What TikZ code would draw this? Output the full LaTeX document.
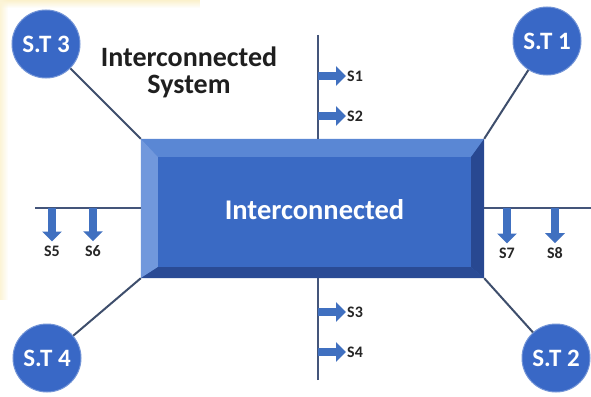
\documentclass[tikz,border=0pt]{standalone}
\usepackage{fontspec}
\setmainfont{Carlito}
\usetikzlibrary{arrows.meta,calc,fadings}
\definecolor{face}{HTML}{3A6AC4}
\definecolor{bevtop}{HTML}{5A87D4}
\definecolor{bevleft}{HTML}{7198DC}
\definecolor{bevright}{HTML}{284891}
\definecolor{bevbot}{HTML}{2A4B95}
\definecolor{stfill}{HTML}{3968C6}
\definecolor{wire}{HTML}{3E4E6C}
\definecolor{bus}{HTML}{44557A}
\definecolor{arr}{HTML}{4070C0}
\definecolor{tint}{HTML}{FBF1CC}
\begin{document}
\begin{tikzpicture}[x=1pt,y=-1pt,
  station/.style={circle,fill=stfill,draw=stfill!70!white,line width=1pt,
    minimum size=68pt,inner sep=0pt,text=white,
    font=\bfseries\fontsize{25}{25}\selectfont},
  wireline/.style={draw=wire,line width=2pt},
  busline/.style={draw=bus,line width=2.2pt},
  blockarrow/.style={draw=arr,line width=8pt,-{Triangle[width=19pt,length=10pt]}},
  slabel/.style={font=\bfseries\fontsize{16}{16}\selectfont,text=black!85,inner sep=1pt}
]
\useasboundingbox (0,0) rectangle (591,396);
\fill[white] (0,0) rectangle (591,396);
% faint warm tint along the upper-left edges
\fill[tint,path fading=south] (0,0) rectangle (200,8);
\fill[tint!80!white,path fading=east] (0,0) rectangle (8,300);

% stations
\node[station] (st3) at (46,44) {S.T 3};
\node[station] (st1) at (547,41) {S.T 1};
\node[station] (st4) at (47,358) {S.T 4};
\node[station] (st2) at (556,358) {S.T 2};

% central bevelled block
\node[fill=face,minimum width=343pt,minimum height=139pt,inner sep=0pt] (box) at (312.5,208.5) {};
\coordinate (inw) at ($(box.north west)+(17,18)$);
\coordinate (ine) at ($(box.north east)+(-13,18)$);
\coordinate (ise) at ($(box.south east)+(-13,-11)$);
\coordinate (isw) at ($(box.south west)+(17,-11)$);
\fill[bevtop] (box.north west) -- (box.north east) -- (ine) -- (inw) -- cycle;
\fill[bevleft] (box.north west) -- (inw) -- (isw) -- (box.south west) -- cycle;
\fill[bevright] (box.north east) -- (box.south east) -- (ise) -- (ine) -- cycle;
\fill[bevbot] (box.south west) -- (isw) -- (ise) -- (box.south east) -- cycle;
\node[text=white,font=\bfseries\fontsize{28.5}{28.5}\selectfont] (boxtext)
  at ($(inw)!0.5!(ise)+(0,-2)$) {Interconnected};

% station links
\draw[wireline] (st3) -- (box.north west);
\draw[wireline] (st1) -- (box.north east);
\draw[wireline] (st4) -- (box.south west);
\draw[wireline] (st2) -- (box.south east);

% buses
\coordinate (ntop) at (318,35);
\coordinate (sbot) at (318,380);
\coordinate (wend) at (35,208);
\coordinate (eend) at (591,208);
\draw[busline] (ntop) -- (ntop |- box.north);
\draw[busline] (sbot) -- (sbot |- box.south);
\draw[busline] (wend) -- (wend -| box.west);
\draw[busline] (eend) -- (eend -| box.east);

% outputs on the vertical buses
\node[slabel,anchor=west] (s1) at (346,76) {S1};
\node[slabel,anchor=west] (s2) at (346,116) {S2};
\node[slabel,anchor=west] (s3) at (346,312) {S3};
\node[slabel,anchor=west] (s4) at (346,352) {S4};
\foreach \s in {s1,s2,s3,s4}
  \draw[blockarrow] (\s.west -| ntop) -- (\s.west);

% outputs on the horizontal buses
\node[slabel] (s5) at (52,251) {S5};
\node[slabel] (s6) at (93,251) {S6};
\node[slabel] (s7) at (507,253) {S7};
\node[slabel] (s8) at (555,253) {S8};
\foreach \s in {s5,s6,s7,s8}
  \draw[blockarrow,shorten >=3pt] (\s.north |- wend) -- (\s.north);

% heading
\node[align=center,text=black!88,font=\bfseries\fontsize{28}{27}\selectfont] (title)
  at (189,72) {Interconnected\\System};
\end{tikzpicture}
\end{document}
